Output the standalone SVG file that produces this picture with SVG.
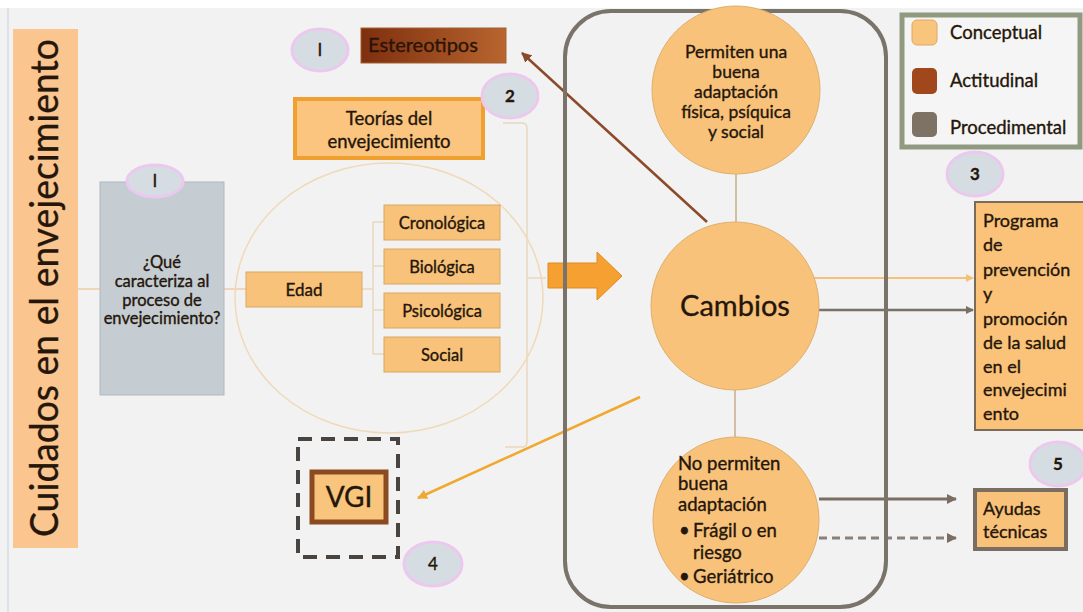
<svg xmlns="http://www.w3.org/2000/svg" width="1083" height="612" viewBox="0 0 1083 612">
<defs>
<style>
.t{font-family:Lato,"Liberation Sans",sans-serif;fill:#24160a;stroke:#24160a;stroke-width:0.35}
.box{fill:#f8c27a;stroke:#d9a863;stroke-width:1}
.badge{fill:#d5dde2;stroke:#ecc8ef;stroke-width:3}
.thin{fill:none;stroke:#ead8c0;stroke-width:1.5}
</style>
<linearGradient id="brown" x1="0" y1="0" x2="1" y2="0">
<stop offset="0" stop-color="#7e2f0e"/>
<stop offset="1" stop-color="#b8652f"/>
</linearGradient>
<marker id="mGray" markerWidth="8" markerHeight="8" refX="7" refY="4" orient="auto" markerUnits="userSpaceOnUse">
<path d="M0,0 L8,4 L0,8 z" fill="#7a6e62"/>
</marker>
<marker id="mGray2" markerWidth="10" markerHeight="10" refX="9" refY="5" orient="auto" markerUnits="userSpaceOnUse">
<path d="M0,0 L10,5 L0,10 z" fill="#7a6e62"/>
</marker>
<marker id="mOr" markerWidth="8" markerHeight="8" refX="7" refY="4" orient="auto" markerUnits="userSpaceOnUse">
<path d="M0,0 L8,4 L0,8 z" fill="#f6c07a"/>
</marker>
<marker id="mOr2" markerWidth="10" markerHeight="10" refX="9" refY="5" orient="auto" markerUnits="userSpaceOnUse">
<path d="M0,0 L10,5 L0,10 z" fill="#f0a830"/>
</marker>
<marker id="mBr" markerWidth="10" markerHeight="10" refX="9" refY="5" orient="auto" markerUnits="userSpaceOnUse">
<path d="M0,0 L10,5 L0,10 z" fill="#8b4a2a"/>
</marker>
</defs>
<rect x="0" y="0" width="1083" height="612" fill="#ffffff"/>
<rect x="0" y="8" width="1083" height="604" fill="#f2f2f2"/>
<rect x="7" y="8" width="2" height="604" fill="#dde2e8"/>

<g id="connectors">
<line x1="78" y1="289" x2="100" y2="289" stroke="#f0cba5" stroke-width="1.5"/>
<line x1="224" y1="289" x2="246" y2="289" stroke="#f0cba5" stroke-width="1.5"/>
<path class="thin" d="M362,289 H373 M373,222 V354 M373,222 H384 M373,266 H384 M373,310 H384 M373,354 H384"/>
<path class="thin" d="M503,123 H522 Q527,123 527,128 V442 Q527,447 522,447 H505 M527,278 H546"/>
<line x1="736" y1="173" x2="736" y2="225" stroke="#c9ad8a" stroke-width="1.5"/>
<line x1="735" y1="390" x2="735" y2="438" stroke="#c9ad8a" stroke-width="1.5"/>
<line x1="707" y1="222" x2="522" y2="53" stroke="#8b4a2a" stroke-width="2.5" marker-end="url(#mBr)"/>
<line x1="640" y1="397" x2="418" y2="498" stroke="#f0a830" stroke-width="2.5" marker-end="url(#mOr2)"/>
<line x1="808" y1="278" x2="973" y2="278" stroke="#f6c07a" stroke-width="2" marker-end="url(#mOr)"/>
<line x1="808" y1="310" x2="973" y2="310" stroke="#7a7268" stroke-width="2.5" marker-end="url(#mGray)"/>
<line x1="819" y1="499" x2="956" y2="499" stroke="#7a6e62" stroke-width="3" marker-end="url(#mGray2)"/>
<line x1="819" y1="538" x2="956" y2="538" stroke="#8a8078" stroke-width="3" stroke-dasharray="8 5" marker-end="url(#mGray2)"/>
</g>

<g id="title">
<rect x="13" y="29" width="65" height="519" fill="#fbc590"/>
<text class="t" transform="translate(58,288) rotate(-90)" text-anchor="middle" font-size="38" textLength="498" lengthAdjust="spacingAndGlyphs">Cuidados en el envejecimiento</text>
</g>

<g id="pregunta">
<rect x="100" y="182" width="124" height="213" fill="#c5cdd3" stroke="#b0b8bf" stroke-width="1"/>
<text class="t" font-size="16.5" text-anchor="middle"><tspan x="162" y="268">¿Qué</tspan><tspan x="162" y="287">caracteriza al</tspan><tspan x="162" y="306">proceso de</tspan><tspan x="162" y="324">envejecimiento?</tspan></text>
</g>
<g id="badge1a"><ellipse class="badge" cx="155" cy="181" rx="28" ry="16"/><text class="t" x="155" y="187" font-size="17" text-anchor="middle">I</text></g>

<g id="circuloEdad"><ellipse cx="389" cy="298" rx="154" ry="135" fill="none" stroke="#efd9b9" stroke-width="1.5"/></g>
<g id="edad"><rect class="box" x="246" y="272" width="116" height="35"/><text class="t" x="304" y="296" font-size="17" text-anchor="middle">Edad</text></g>
<g id="cronologica"><rect class="box" x="384" y="205" width="116" height="35"/><text class="t" x="442" y="229" font-size="16.5" text-anchor="middle">Cronológica</text></g>
<g id="biologica"><rect class="box" x="384" y="249" width="116" height="35"/><text class="t" x="442" y="273" font-size="16.5" text-anchor="middle">Biológica</text></g>
<g id="psicologica"><rect class="box" x="384" y="293" width="116" height="35"/><text class="t" x="442" y="317" font-size="16.5" text-anchor="middle">Psicológica</text></g>
<g id="social"><rect class="box" x="384" y="337" width="116" height="35"/><text class="t" x="442" y="361" font-size="16.5" text-anchor="middle">Social</text></g>

<g id="teorias">
<rect x="295" y="99" width="188" height="59" fill="#fbc580" stroke="#f0a030" stroke-width="4"/>
<text class="t" font-size="18.5" text-anchor="middle"><tspan x="389" y="125">Teorías del</tspan><tspan x="389" y="148">envejecimiento</tspan></text>
</g>
<g id="badge2"><ellipse class="badge" cx="510" cy="96" rx="28" ry="22"/><text class="t" x="510" y="102" font-size="17" font-weight="bold" text-anchor="middle">2</text></g>

<g id="estereotipos">
<rect x="361" y="28" width="145" height="35" fill="url(#brown)" stroke="#a66030" stroke-width="1"/>
<text class="t" x="368" y="52" font-size="20" style="fill:#2b1407;stroke:#2b1407">Estereotipos</text>
</g>
<g id="badge1b"><ellipse class="badge" cx="320" cy="50" rx="28" ry="21"/><text class="t" x="320" y="56" font-size="17" text-anchor="middle">I</text></g>

<g id="flecha"><polygon points="548,263 597,263 597,252 622,276 597,300 597,288 548,288" fill="#f5a030" stroke="#e08a20" stroke-width="1"/></g>

<g id="contenedor"><rect x="565" y="11" width="321" height="596" rx="46" fill="none" stroke="#7a736a" stroke-width="4"/></g>

<g id="permiten">
<circle cx="736" cy="90" r="84" fill="#f8c27a" stroke="#ddb06c" stroke-width="1"/>
<text class="t" font-size="17.5" text-anchor="middle"><tspan x="736" y="58">Permiten una</tspan><tspan x="736" y="78">buena</tspan><tspan x="736" y="98">adaptación</tspan><tspan x="736" y="118">física, psíquica</tspan><tspan x="736" y="138">y social</tspan></text>
</g>
<g id="cambios">
<circle cx="735" cy="306" r="84" fill="#f8c27a" stroke="#ddb06c" stroke-width="1"/>
<text class="t" x="735" y="316" font-size="29" text-anchor="middle">Cambios</text>
</g>
<g id="nopermiten">
<circle cx="736" cy="520" r="83" fill="#f8c27a" stroke="#ddb06c" stroke-width="1"/>
<text class="t" font-size="18.5"><tspan x="678" y="470">No permiten</tspan><tspan x="678" y="490">buena</tspan><tspan x="678" y="511">adaptación</tspan><tspan x="679" y="537">•</tspan><tspan x="693" y="537">Frágil o en</tspan><tspan x="693" y="559">riesgo</tspan><tspan x="679" y="583">•</tspan><tspan x="693" y="583">Geriátrico</tspan></text>
</g>

<g id="vgi">
<rect x="298" y="439" width="100" height="118" fill="none" stroke="#4a4440" stroke-width="4" stroke-dasharray="14 9"/>
<rect x="312" y="472" width="74" height="50" fill="#f9c47c" stroke="#8b4a20" stroke-width="5"/>
<text class="t" x="349" y="507" font-size="28" text-anchor="middle">VGI</text>
</g>
<g id="badge4"><ellipse class="badge" cx="433" cy="564" rx="29" ry="22"/><text class="t" x="433" y="570" font-size="17" text-anchor="middle">4</text></g>

<g id="leyenda">
<rect x="902" y="15" width="178" height="132" fill="#f5f5f5" stroke="#8f9a80" stroke-width="5"/>
<rect x="912" y="20" width="25" height="25" rx="5" fill="#f9c47c" stroke="#e0a860" stroke-width="1"/>
<rect x="912" y="68" width="25" height="26" rx="5" fill="#a0471c"/>
<rect x="912" y="112" width="25" height="25" rx="5" fill="#7d7264"/>
<text class="t" font-size="18.5"><tspan x="950" y="39">Conceptual</tspan><tspan x="950" y="87">Actitudinal</tspan><tspan x="950" y="134">Procedimental</tspan></text>
</g>
<g id="badge3"><ellipse class="badge" cx="975" cy="174" rx="28" ry="22"/><text class="t" x="975" y="180" font-size="17" font-weight="bold" text-anchor="middle">3</text></g>

<g id="programa">
<rect x="975" y="202" width="120" height="228" fill="#fbc27a" stroke="#7a6a5a" stroke-width="2"/>
<text class="t" font-size="18"><tspan x="983" y="227">Programa</tspan><tspan x="983" y="251">de</tspan><tspan x="983" y="276">prevención</tspan><tspan x="983" y="300">y</tspan><tspan x="983" y="325">promoción</tspan><tspan x="983" y="349">de la salud</tspan><tspan x="983" y="373">en el</tspan><tspan x="983" y="396">envejecimi</tspan><tspan x="983" y="420">ento</tspan></text>
</g>

<g id="ayudas">
<rect x="975" y="490" width="91" height="59" fill="#f8c27a" stroke="#7a6e62" stroke-width="4"/>
<text class="t" font-size="18"><tspan x="983" y="515">Ayudas</tspan><tspan x="983" y="538">técnicas</tspan></text>
</g>
<g id="badge5"><ellipse class="badge" cx="1058" cy="464" rx="28" ry="22"/><text class="t" x="1058" y="470" font-size="17" font-weight="bold" text-anchor="middle">5</text></g>
</svg>
